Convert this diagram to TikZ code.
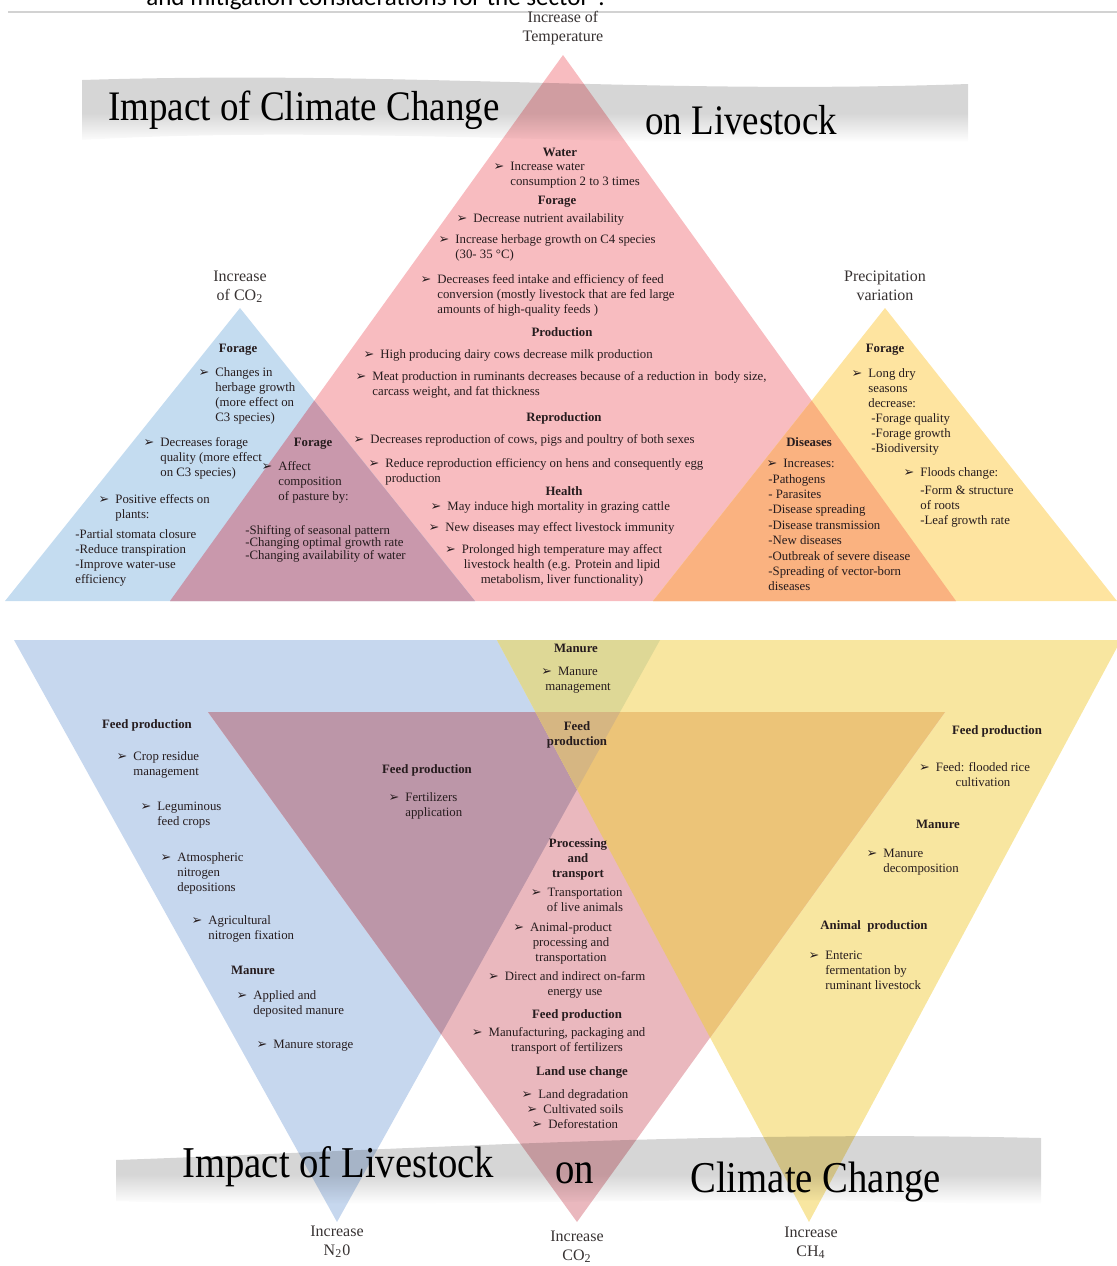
\documentclass[tikz,border=0pt]{standalone}
\usepackage{fontspec}
\setmainfont{Liberation Serif}
\newfontfamily\titlefont[FakeStretch=0.88]{Liberation Serif}
\newfontfamily\symf{DejaVu Sans}
\newfontfamily\pagefont{Carlito}

% palette
\definecolor{ink}{RGB}{38,28,30}
\definecolor{lblink}{RGB}{55,50,50}
\definecolor{tRed}{RGB}{248,188,192}
\definecolor{tBlue}{RGB}{196,220,240}
\definecolor{tMauve}{RGB}{201,152,172}
\definecolor{tYellow}{RGB}{254,228,160}
\definecolor{tOrange}{RGB}{250,178,128}
\definecolor{bBlue}{RGB}{198,215,238}
\definecolor{bPink}{RGB}{234,184,190}
\definecolor{bPurple}{RGB}{188,150,168}
\definecolor{bYellow}{RGB}{248,230,160}
\definecolor{bKhaki}{RGB}{222,216,150}
\definecolor{bTan}{RGB}{214,182,130}
\definecolor{bOrange}{RGB}{236,196,120}
\definecolor{rimA}{RGB}{192,192,192}
\definecolor{rimB}{RGB}{214,214,214}

% ribbon gradient, listed from bottom to top
\pgfdeclareverticalshading{ribbon}{100bp}{color(0bp)=(rimA); color(7bp)=(rimB); color(17bp)=(white); color(30bp)=(white); color(48bp)=(rimB); color(85bp)=(rimB); color(100bp)=(rimA)}

\newcommand\bu{\llap{{\symf\fontsize{6.4}{6.4}\selectfont ➢}\hspace{3pt}}}
\newcommand\TL[1]{\begin{tabular}[t]{@{}l@{}}#1\end{tabular}}
\newcommand\TC[1]{\begin{tabular}[t]{@{}c@{}}#1\end{tabular}}

\tikzset{
  body/.style={inner sep=0pt, text=ink, font=\fontsize{6.4}{7.5}\selectfont},
  head/.style={inner sep=0pt, text=ink, font=\fontsize{6.4}{7.5}\selectfont\bfseries},
  lw/.style={body, anchor=base west},
  ctr/.style={body, anchor=base},
  hd/.style={head, anchor=base},
  lbl/.style={inner sep=0pt, text=lblink, anchor=base, font=\fontsize{8}{9.6}\selectfont},
  ttl/.style={inner sep=0pt, text=black, anchor=base west, font=\titlefont\fontsize{21}{24}\selectfont},
  ttlb/.style={inner sep=0pt, text=black, anchor=base west, font=\titlefont\fontsize{22}{25}\selectfont},
}

\begin{document}
\begin{tikzpicture}[x=0.5pt,y=-0.5pt]
\useasboundingbox (0,0) rectangle (1117,1266);

% page header fragment
\node[anchor=base west, inner sep=0pt, text=black, font=\pagefont\fontsize{12.5}{14}\selectfont] (pg) at (146,5) {and mitigation considerations for the sector”.};
\coordinate (ruleL) at (8,12); \coordinate (ruleR) at (1117,12);
\draw[gray!35, line width=1.2pt] (ruleL) -- (ruleR);

% ---------- upper pyramid group ----------
\coordinate (rT) at (563,55);  \coordinate (rL) at (170,601); \coordinate (rR) at (956,601);
\coordinate (cT) at (240,308); \coordinate (cL) at (5,601);   \coordinate (cR) at (475,601);
\coordinate (pT) at (885,308); \coordinate (pL) at (653,601); \coordinate (pR) at (1117,601);

\fill[tRed]    (rT) -- (rL) -- (rR) -- cycle;
\fill[tBlue]   (cT) -- (cL) -- (cR) -- cycle;
\fill[tYellow] (pT) -- (pL) -- (pR) -- cycle;
\begin{scope}
  \clip (cT) -- (cL) -- (cR) -- cycle;
  \fill[tMauve] (rT) -- (rL) -- (rR) -- cycle;
\end{scope}
\begin{scope}
  \clip (pT) -- (pL) -- (pR) -- cycle;
  \fill[tOrange] (rT) -- (rL) -- (rR) -- cycle;
\end{scope}

% ---------- lower pyramid group ----------
\coordinate (nL) at (14,640);  \coordinate (nR) at (660,640);  \coordinate (nB) at (337,1222);
\coordinate (kL) at (208,712); \coordinate (kR) at (945,712);  \coordinate (kB) at (577,1222);
\coordinate (mL) at (497,640); \coordinate (mR) at (1121,640); \coordinate (mB) at (809,1222);

\fill[bBlue]   (nL) -- (nR) -- (nB) -- cycle;
\fill[bYellow] (mL) -- (mR) -- (mB) -- cycle;
\fill[bPink]   (kL) -- (kR) -- (kB) -- cycle;
\begin{scope}
  \clip (nL) -- (nR) -- (nB) -- cycle;
  \fill[bPurple] (kL) -- (kR) -- (kB) -- cycle;
  \fill[bKhaki]  (mL) -- (mR) -- (mB) -- cycle;
\end{scope}
\begin{scope}
  \clip (kL) -- (kR) -- (kB) -- cycle;
  \fill[bOrange] (mL) -- (mR) -- (mB) -- cycle;
  \clip (nL) -- (nR) -- (nB) -- cycle;
  \fill[bTan] (mL) -- (mR) -- (mB) -- cycle;
\end{scope}

% ---------- ribbons ----------
\begin{scope}[blend mode=multiply]
  \shade[shading=ribbon] (82,80) .. controls (400,70) and (650,95) .. (968,84)
     -- (968,143) .. controls (650,150) and (350,124) .. (82,140) -- cycle;
  \shade[shading=ribbon] (116,1160) .. controls (400,1150) and (700,1130) .. (1041,1138)
     -- (1041,1207) .. controls (750,1190) and (400,1212) .. (116,1201) -- cycle;
\end{scope}

% titles
\node[ttl]  (t1) at (108,120) {Impact of Climate Change};
\node[ttl]  (t2) at (645,134) {on Livestock};
\node[ttlb] (t3) at (182,1177) {Impact of Livestock};
\node[ttlb] (t4) at (555,1183) {on};
\node[ttlb] (t5) at (690,1192) {Climate Change};

% apex labels
\node[lbl] (lT)  at (563,22)   {\TC{Increase of\\Temperature}};
\node[lbl] (lC)  at (240,281)  {\TC{Increase\\of CO\textsubscript{2}}};
\node[lbl] (lP)  at (885,281)  {\TC{Precipitation\\variation}};
\node[lbl] (lN)  at (337,1236) {\TC{Increase\\N\textsubscript{2}0}};
\node[lbl] (lC2) at (577,1241) {\TC{Increase\\CO\textsubscript{2}}};
\node[lbl] (lM)  at (811,1237) {\TC{Increase\\CH\textsubscript{4}}};

% temperature pyramid
\node[hd] (wH) at (560,156) {Water};
\node[lw] (w1) at (510,170) {\TL{\bu Increase water\\consumption 2 to 3 times}};
\node[hd] (fH) at (557,204) {Forage};
\node[lw] (f1) at (473,222) {\TL{\bu Decrease nutrient availability}};
\node[lw] (f2) at (455,243) {\TL{\bu Increase herbage growth on C4 species\\(30- 35 °C)}};
\node[lw] (f3) at (437,283) {\TL{\bu Decreases feed intake and efficiency of feed\\conversion (mostly livestock that are fed large\\amounts of high-quality feeds )}};
\node[hd] (pH) at (562,336) {Production};
\node[lw] (p1) at (380,358) {\TL{\bu High producing dairy cows decrease milk production}};
\node[lw] (p2) at (372,380) {\TL{\bu Meat production in ruminants decreases because of a reduction in\ \ body size,\\carcass weight, and fat thickness}};
\node[hd] (rH) at (564,421) {Reproduction};
\node[lw] (r1) at (370,443) {\TL{\bu Decreases reproduction of cows, pigs and poultry of both sexes}};
\node[lw] (r2) at (385,467) {\TL{\bu Reduce reproduction efficiency on hens and consequently egg\\production}};
\node[hd] (hH) at (564,495) {Health};
\node[lw] (h1) at (447,510) {\TL{\bu May induce high mortality in grazing cattle}};
\node[lw] (h2) at (445,531) {\TL{\bu New diseases may effect livestock immunity}};
\node[ctr] (h3) at (562,553) {\TC{\bu Prolonged high temperature may affect\\livestock health (e.g. Protein and lipid\\metabolism, liver functionality)}};

% CO2 pyramid
\node[hd] (cH) at (238,352) {Forage};
\node[lw] (c1) at (215,376) {\TL{\bu Changes in\\herbage growth\\(more effect on\\C3 species)}};
\node[lw] (c2) at (160,446) {\TL{\bu Decreases forage\\quality (more effect\\on C3 species)}};
\node[lw] (c3) at (115,503) {\TL{\bu Positive effects on\\plants:}};
\node[lw] (c4) at (75,538)  {\TL{-Partial stomata closure\\-Reduce transpiration\\-Improve water-use\\efficiency}};
\node[hd] (mH) at (313,446) {Forage};
\node[lw] (m1) at (278,470) {\TL{\bu Affect\\composition\\of pasture by:}};
\node[lw, font=\fontsize{6.4}{6.2}\selectfont] (m2) at (245,534) {\TL{-Shifting of seasonal pattern\\-Changing optimal growth rate\\-Changing availability of water}};

% precipitation pyramid
\node[hd] (yH) at (885,352) {Forage};
\node[lw] (y1) at (868,377) {\TL{\bu Long dry\\seasons\\decrease:\\\hspace{1.5pt}-Forage quality\\\hspace{1.5pt}-Forage growth\\\hspace{1.5pt}-Biodiversity}};
\node[lw] (y2) at (920,476) {\TL{\bu Floods change:\\[1.5pt]-Form \& structure\\of roots\\-Leaf growth rate}};
\node[hd] (dH) at (809,446) {Diseases};
\node[lw] (d1) at (783,467) {\TL{\bu Increases:}};
\node[lw, font=\fontsize{6.4}{7.7}\selectfont] (d2) at (768,483) {\TL{-Pathogens\\- Parasites\\-Disease spreading\\-Disease transmission\\-New diseases\\-Outbreak of severe disease\\-Spreading of vector-born\\diseases}};

% N2O pyramid
\node[hd] (aH) at (147,728) {Feed production};
\node[lw] (a1) at (133,760) {\TL{\bu Crop residue\\management}};
\node[lw] (a2) at (157,810) {\TL{\bu Leguminous\\feed crops}};
\node[lw] (a3) at (177,861) {\TL{\bu Atmospheric\\nitrogen\\depositions}};
\node[lw] (a4) at (208,924) {\TL{\bu Agricultural\\nitrogen fixation}};
\node[hd] (aM) at (253,974) {Manure};
\node[lw] (a5) at (253,999) {\TL{\bu Applied and\\deposited manure}};
\node[lw] (a6) at (273,1048) {\TL{\bu Manure storage}};
\node[hd] (bH) at (427,773) {Feed production};
\node[lw] (b1) at (405,801) {\TL{\bu Fertilizers\\application}};

% shared zones at the top
\node[hd] (sM) at (576,652) {Manure};
\node[ctr] (s1) at (578,675) {\TC{\bu Manure\\management}};
\node[hd] (sF) at (577,730) {\TC{Feed\\production}};

% CO2 emission pyramid
\node[hd] (oH) at (578,847) {\TC{Processing\\and\\transport}};
\node[ctr] (o1) at (585,896) {\TC{\bu Transportation\\of live animals}};
\node[ctr] (o2) at (571,931) {\TC{\bu Animal-product\\processing and\\transportation}};
\node[ctr] (o3) at (575,980) {\TC{\bu Direct and indirect on-farm\\energy use}};
\node[hd] (oF) at (577,1018) {Feed production};
\node[ctr] (o4) at (567,1036) {\TC{\bu Manufacturing, packaging and\\transport of fertilizers}};
\node[hd] (oL) at (582,1075) {Land use change};
\node[lw] (o5) at (538,1098) {\TL{\bu Land degradation}};
\node[lw] (o6) at (543,1113) {\TL{\bu Cultivated soils}};
\node[lw] (o7) at (548,1128) {\TL{\bu Deforestation}};

% CH4 pyramid
\node[hd] (eH) at (997,734) {Feed production};
\node[ctr] (e1) at (983,771) {\TC{\bu Feed: flooded rice\\cultivation}};
\node[hd] (eM) at (938,828) {Manure};
\node[lw] (e2) at (883,857) {\TL{\bu Manure\\decomposition}};
\node[hd] (eA) at (874,929) {Animal\ \ production};
\node[lw] (e3) at (825,959) {\TL{\bu Enteric\\fermentation by\\ruminant livestock}};
\end{tikzpicture}
\end{document}
